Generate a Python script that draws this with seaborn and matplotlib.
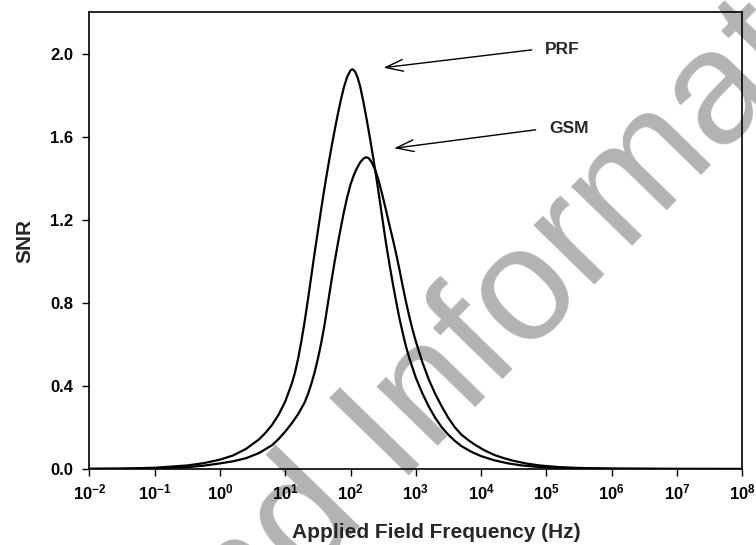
import numpy as np
import pandas as pd
import matplotlib
matplotlib.use("Agg")
import matplotlib.pyplot as plt
from matplotlib.ticker import NullLocator
import seaborn as sns

# Frequency given as log10(Hz); SNR
prf_log_f = [-2.0, -1.5, -1.0, -0.5, -0.25, 0.0, 0.2, 0.4, 0.6, 0.7, 0.8, 0.9, 1.0,
             1.1, 1.15, 1.2, 1.25, 1.3, 1.35, 1.4, 1.45, 1.5, 1.55, 1.6, 1.65, 1.7,
             1.75, 1.8, 1.85, 1.9, 1.95, 2.0, 2.03, 2.07, 2.11, 2.15, 2.2, 2.25, 2.3,
             2.35, 2.4, 2.45, 2.5, 2.55, 2.6, 2.65, 2.7, 2.75, 2.8, 2.85, 2.9, 3.0,
             3.1, 3.2, 3.3, 3.4, 3.5, 3.6, 3.7, 3.85, 4.0, 4.2, 4.4, 4.6, 4.8, 5.0,
             5.5, 6.0, 7.0, 8.0]
prf_snr = [0.0008, 0.002, 0.006, 0.017, 0.028, 0.045, 0.065, 0.097, 0.143, 0.175,
           0.213, 0.262, 0.325, 0.41, 0.465, 0.535, 0.62, 0.715, 0.82, 0.93, 1.04,
           1.145, 1.25, 1.35, 1.445, 1.535, 1.62, 1.70, 1.775, 1.84, 1.89, 1.92,
           1.926, 1.915, 1.885, 1.84, 1.765, 1.68, 1.59, 1.495, 1.395, 1.29, 1.18,
           1.075, 0.98, 0.89, 0.805, 0.725, 0.655, 0.59, 0.535, 0.44, 0.365, 0.30,
           0.245, 0.20, 0.165, 0.135, 0.11, 0.083, 0.062, 0.042, 0.028, 0.018,
           0.012, 0.008, 0.003, 0.001, 0.0002, 0.0]

gsm_log_f = [-2.0, -1.5, -1.0, -0.5, -0.25, 0.0, 0.2, 0.4, 0.6, 0.8, 0.9, 1.0, 1.1,
             1.2, 1.3, 1.35, 1.4, 1.45, 1.5, 1.55, 1.6, 1.65, 1.7, 1.75, 1.8, 1.85,
             1.9, 1.95, 2.0, 2.05, 2.1, 2.15, 2.2, 2.24, 2.28, 2.33, 2.38, 2.43, 2.48,
             2.53, 2.6, 2.65, 2.7, 2.75, 2.8, 2.85, 2.9, 2.95, 3.0, 3.1, 3.2, 3.3,
             3.4, 3.5, 3.6, 3.7, 3.8, 3.9, 4.05, 4.2, 4.35, 4.5, 4.7, 4.9, 5.2, 5.5,
             6.0, 7.0, 8.0]
gsm_snr = [0.0005, 0.001, 0.003, 0.009, 0.016, 0.027, 0.037, 0.052, 0.077, 0.115,
           0.145, 0.18, 0.22, 0.265, 0.322, 0.362, 0.41, 0.465, 0.53, 0.605, 0.69,
           0.79, 0.89, 0.985, 1.075, 1.16, 1.24, 1.31, 1.37, 1.415, 1.45, 1.478,
           1.496, 1.502, 1.497, 1.475, 1.44, 1.39, 1.33, 1.265, 1.17, 1.105, 1.035,
           0.96, 0.88, 0.805, 0.735, 0.672, 0.615, 0.515, 0.43, 0.36, 0.30, 0.245,
           0.20, 0.165, 0.14, 0.118, 0.09, 0.068, 0.052, 0.039, 0.026, 0.017, 0.009,
           0.005, 0.002, 0.0004, 0.0001]

x_tick_exponents = list(range(-2, 9))
y_ticks = [0.0, 0.4, 0.8, 1.2, 1.6, 2.0]

df = pd.concat([
    pd.DataFrame({"freq": 10.0 ** np.array(prf_log_f), "snr": prf_snr, "series": "PRF"}),
    pd.DataFrame({"freq": 10.0 ** np.array(gsm_log_f), "snr": gsm_snr, "series": "GSM"}),
], ignore_index=True)

sns.set_style("ticks")
plt.rcParams.update({
    "font.family": ["Liberation Sans", "DejaVu Sans"],
    "font.weight": "bold",
    "mathtext.fontset": "custom",
    "mathtext.rm": "Liberation Sans:bold",
    "mathtext.bf": "Liberation Sans:bold",
    "mathtext.it": "Liberation Sans:bold",
})

W, H = 756, 545
fig = plt.figure(figsize=(W / 100, H / 100), dpi=100)
ax = fig.add_axes([89.3 / W, 1 - 469 / H, (742.3 - 89.3) / W, (469 - 12.3) / H])
ax.patch.set_visible(False)

sns.lineplot(data=df, x="freq", y="snr", hue="series",
             palette={"PRF": "black", "GSM": "black"}, legend=False,
             estimator=None, sort=False, linewidth=1.6, ax=ax)

ax.set_xscale("log")
ax.set_xlim(1e-2, 1e8)
ax.set_ylim(0, 2.2)
ax.set_xticks([10.0 ** e for e in x_tick_exponents])
ax.set_xticklabels([rf"$\mathbf{{10^{{{e}}}}}$" for e in x_tick_exponents])
ax.xaxis.set_minor_locator(NullLocator())
ax.set_yticks(y_ticks)
ax.set_yticklabels([f"{v:.1f}" for v in y_ticks])

ax.tick_params(axis="both", direction="out", length=4.8, width=1.0, color="black",
               labelsize=12, labelcolor="black")
ax.tick_params(axis="y", pad=7)
ax.tick_params(axis="x", pad=5)
for s in ax.spines.values():
    s.set_visible(True)
    s.set_linewidth(1.2)
    s.set_color("black")

ax.set_xlabel("Applied Field Frequency (Hz)", fontsize=15, fontweight="bold")
ax.xaxis.set_label_coords(0.532, -0.119)
ax.set_ylabel("SNR", fontsize=15, fontweight="bold", labelpad=11)

arrow = dict(arrowstyle="->,head_length=0.9,head_width=0.3", lw=1.0, color="black",
             shrinkA=0, shrinkB=0, mutation_scale=14)
ax.annotate("", xy=(318, 1.933), xytext=(5.96e4, 2.019), arrowprops=arrow)
ax.annotate("", xy=(464, 1.545), xytext=(6.85e4, 1.634), arrowprops=arrow)
ax.text(9.5e4, 2.019, "PRF", fontsize=12.5, fontweight="bold", ha="left", va="center")
ax.text(1.12e5, 1.642, "GSM", fontsize=12.5, fontweight="bold", ha="left", va="center")

# Publisher watermark behind the plot
fig.text(180 / W, 1 - 712 / H, "and Informat", fontsize=116.6, color="#b3b3b3",
         family="Liberation Sans", fontweight="normal", rotation=45.8,
         rotation_mode="anchor", ha="left", va="baseline", zorder=-1)

fig.savefig("out.png", dpi=100)
